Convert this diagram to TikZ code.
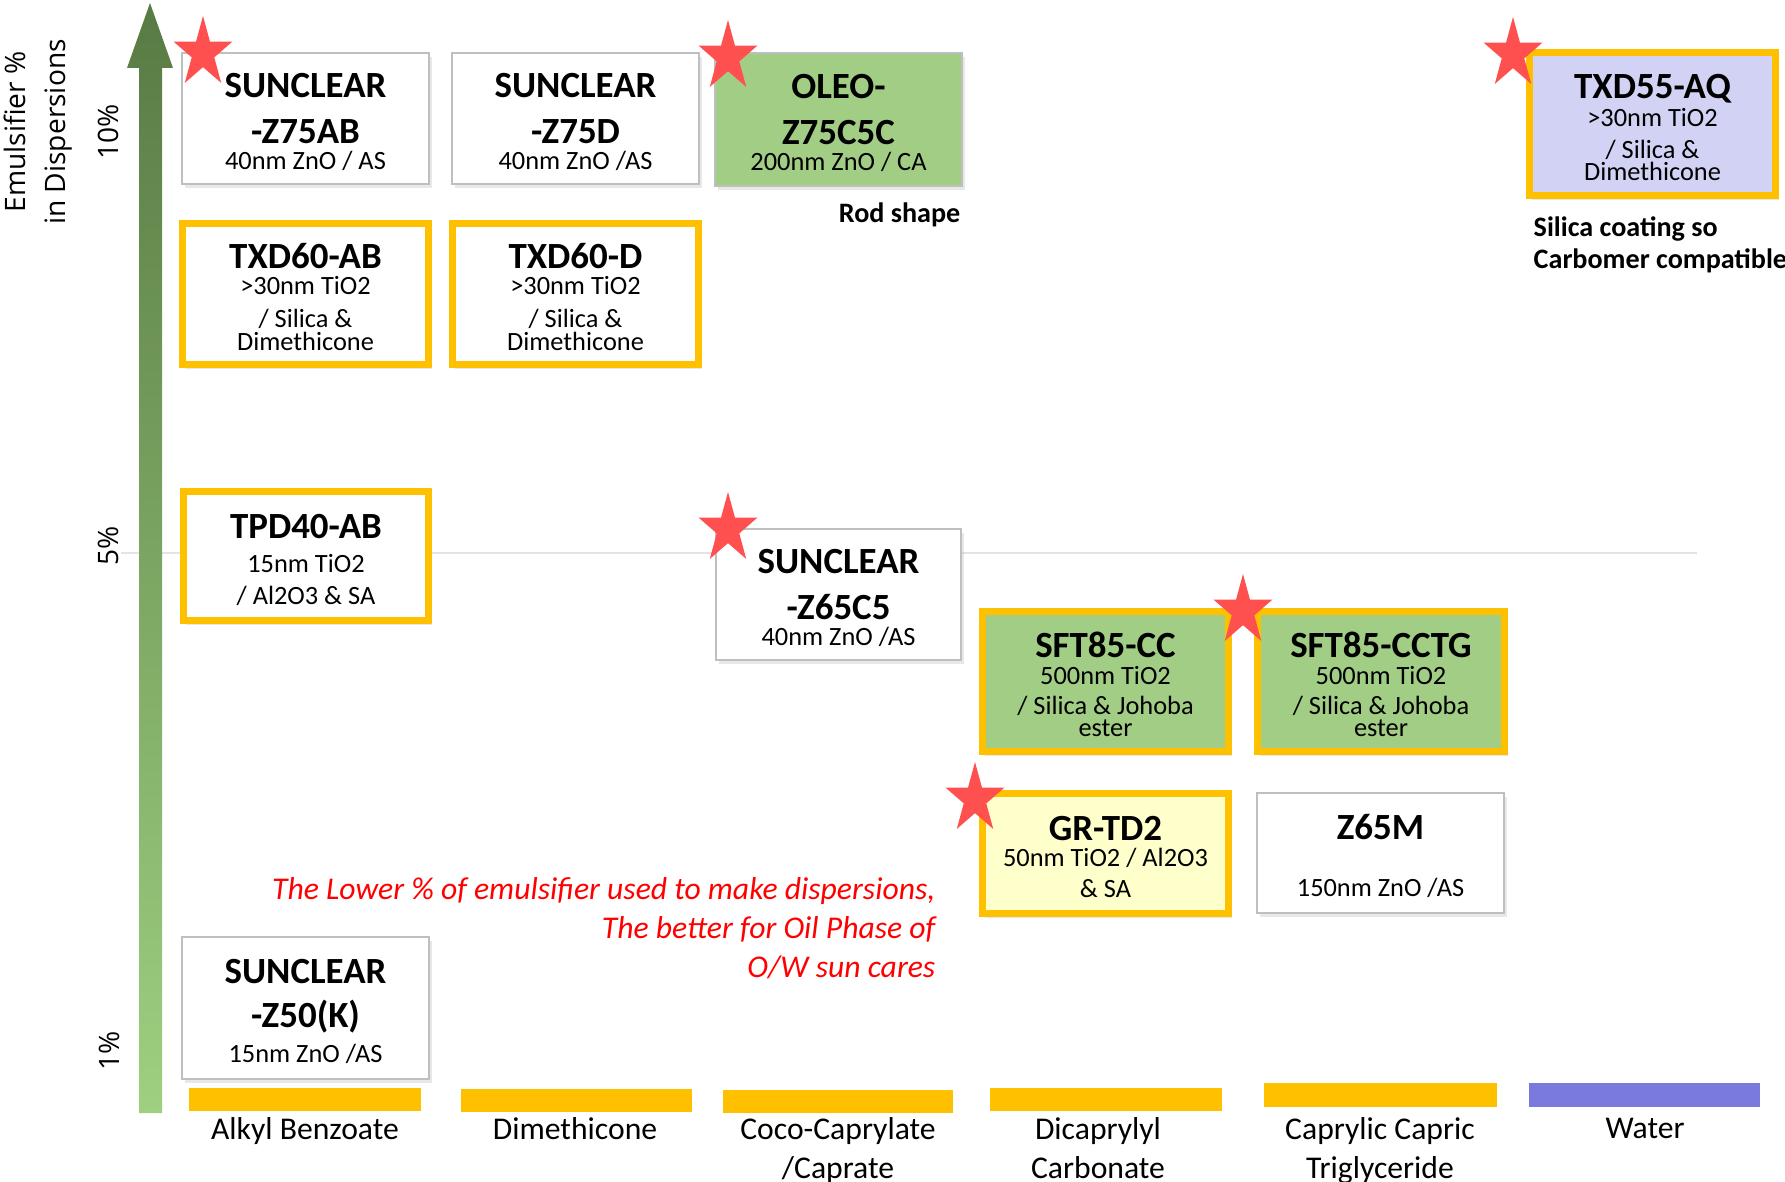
\documentclass[tikz,border=0pt]{standalone}
\usepackage{fontspec}
\setmainfont{Carlito}
\newfontfamily\axisfont{Open Sans}
\usetikzlibrary{shadows}
\definecolor{gold}{HTML}{FFC000}
\definecolor{cardline}{HTML}{BFBFBF}
\definecolor{leaf}{HTML}{A2CD85}
\definecolor{lilac}{HTML}{D2D2F5}
\definecolor{cream}{HTML}{FFFFCC}
\definecolor{water}{HTML}{7A7ADC}
\definecolor{starred}{HTML}{FF5050}
\definecolor{darkleaf}{HTML}{587A44}
\definecolor{paleleaf}{HTML}{9ED080}
\definecolor{gridgray}{HTML}{E3E3E3}
\newcommand{\ttl}{\fontsize{10.5}{9}\selectfont\bfseries\rule{0pt}{9pt}}
\newcommand{\sbt}{\fontsize{7.5}{9}\selectfont\lineskiplimit=-50pt\relax}
\tikzset{redstar/.pic={\fill[starred, x=0.31cm, y=0.37cm] (90:1) -- (126:0.382) -- (162:1) -- (198:0.382) -- (234:1) -- (270:0.382) -- (306:1) -- (342:0.382) -- (18:1) -- (54:0.382) -- cycle;}}
\begin{document}
\begin{tikzpicture}[x=0.01cm, y=-0.01cm,
    card/.style={draw=cardline, line width=0.4pt, fill=white, minimum width=2.47cm, minimum height=1.31cm,
      inner sep=0pt, align=center, font=\sbt,
      drop shadow={opacity=0.18, shadow xshift=0.03cm, shadow yshift=-0.04cm}},
    goldcard/.style={card, draw=gold, line width=2pt, minimum width=2.46cm, minimum height=1.41cm},
    note/.style={font=\fontsize{8}{9}\selectfont\bfseries, inner sep=0pt},
    oilname/.style={font=\fontsize{9}{11.1}\selectfont, inner sep=0pt, align=center, anchor=north},
    tick/.style={font=\axisfont\fontsize{8}{10}\selectfont, rotate=90, inner sep=0pt}]
  \useasboundingbox (0,0) rectangle (1785,1182);
  % Draw faint 5% guide line
  \draw[gridgray, line width=0.4pt] (121,553) -- (1697,553);
  % Draw the emulsifier axis arrow
  \shade[top color=darkleaf, bottom color=paleleaf] (139,1113) -- (139,68) -- (127,68) -- (150,3)
    -- (173,68) -- (162,68) -- (162,1113) -- cycle;
  \node[font=\axisfont\fontsize{8}{11.4}\selectfont, rotate=90, align=center, inner sep=0pt] (axis) at (38,132)
    {Emulsifier \%\\in Dispersions};
  \node[tick] (t10) at (108,132) {10\%};
  \node[tick] (t5) at (108,546) {5\%};
  \node[tick] (t1) at (109,1051) {1\%};
  % Draw the 10% row
  \node[card] (z75ab) at (305.5,118.5) {{\ttl SUNCLEAR}\\[4pt]{\ttl -Z75AB}\\[-1.6pt]40nm ZnO / AS};
  \node[card] (z75d) at (575.5,118.5) {{\ttl SUNCLEAR}\\[4pt]{\ttl -Z75D}\\[-1.6pt]40nm ZnO /AS};
  \node[card, fill=leaf, minimum height=1.33cm] (oleo) at (838.5,119.5)
    {{\ttl OLEO-}\\[4pt]{\ttl Z75C5C}\\[-1.6pt]200nm ZnO / CA};
  \node[goldcard, fill=lilac, minimum height=1.43cm] (txd55) at (1652.5,124)
    {{\ttl TXD55-AQ}\\[-1.3pt]>30nm TiO2\\[0.1pt]/ Silica \&\\[-2.6pt]Dimethicone};
  \node[note, anchor=base east] (rod) at (961,222) {Rod shape};
  \node[note, anchor=north west, align=left] (silica) at (1533,216) {Silica coating so\\Carbomer compatible};
  % Draw the TXD60 row
  \node[goldcard] (txd60ab) at (305.5,294)
    {{\ttl TXD60-AB}\\[-1.75pt]>30nm TiO2\\[0.4pt]/ Silica \&\\[-2.4pt]Dimethicone};
  \node[goldcard] (txd60d) at (575.5,294)
    {{\ttl TXD60-D}\\[-1.75pt]>30nm TiO2\\[0.4pt]/ Silica \&\\[-2.4pt]Dimethicone};
  % Draw the 5% row
  \node[goldcard, minimum width=2.45cm, minimum height=1.29cm] (tpd40) at (306,556)
    {{\ttl TPD40-AB}\\[0.8pt]15nm TiO2\\[0.1pt]/ Al2O3 \& SA};
  \node[card, minimum width=2.45cm] (z65c5) at (838.5,594.5) {{\ttl SUNCLEAR}\\[4.1pt]{\ttl -Z65C5}\\[-1.5pt]40nm ZnO /AS};
  \node[goldcard, fill=leaf, minimum height=1.40cm] (sftcc) at (1105.5,681.5)
    {{\ttl SFT85-CC}\\[-1.5pt]500nm TiO2\\[-0.2pt]/ Silica \& Johoba\\[-2.8pt]ester};
  \node[goldcard, fill=leaf, minimum width=2.47cm, minimum height=1.40cm] (sftcctg) at (1381,681.5)
    {{\ttl SFT85-CCTG}\\[-1.5pt]500nm TiO2\\[-0.2pt]/ Silica \& Johoba\\[-2.8pt]ester};
  \node[goldcard, fill=cream, minimum height=1.20cm] (grtd2) at (1105.5,853.5)
    {{\ttl GR-TD2}\\[-1.75pt]50nm TiO2 / Al2O3\\[0pt]\& SA};
  \node[card, minimum height=1.20cm] (z65m) at (1380.5,853) {{\ttl Z65M}\\[7.2pt]150nm ZnO /AS};
  % Draw the 1% row
  \node[card, minimum height=1.42cm] (z50k) at (305.5,1008) {{\ttl SUNCLEAR}\\[3.5pt]{\ttl -Z50(K)}\\[1pt]15nm ZnO /AS};
  \node[font=\fontsize{9}{11}\selectfont\itshape, text=red, align=right, anchor=north east, inner sep=0pt] (lower)
    at (936,877) {The Lower \% of emulsifier used to make dispersions,\\The better for Oil Phase of\\O/W sun cares};
  % Draw stars on recommended grades
  \foreach \sx/\sy in {203/53, 728/57, 1513/54, 728/529, 1243/611, 975/799}
    \pic at (\sx,\sy) {redstar};
  % Draw oil phase bars
  \fill[gold] (189,1088) rectangle (421,1111);
  \fill[gold] (461,1089) rectangle (692,1112);
  \fill[gold] (723,1090) rectangle (953,1113);
  \fill[gold] (990,1088) rectangle (1222,1111);
  \fill[gold] (1264,1083) rectangle (1497,1107);
  \fill[water] (1529,1083) rectangle (1760,1107);
  \node[oilname] (alkyl) at (305,1117) {Alkyl Benzoate};
  \node[oilname] (dimeth) at (575,1117) {Dimethicone};
  \node[oilname] (coco) at (838,1117) {Coco-Caprylate\\/Caprate};
  \node[oilname] (dicap) at (1098,1117) {Dicaprylyl\\Carbonate};
  \node[oilname] (cct) at (1380,1117) {Caprylic Capric\\Triglyceride};
  \node[oilname] (wat) at (1645,1117) {Water};
\end{tikzpicture}
\end{document}
